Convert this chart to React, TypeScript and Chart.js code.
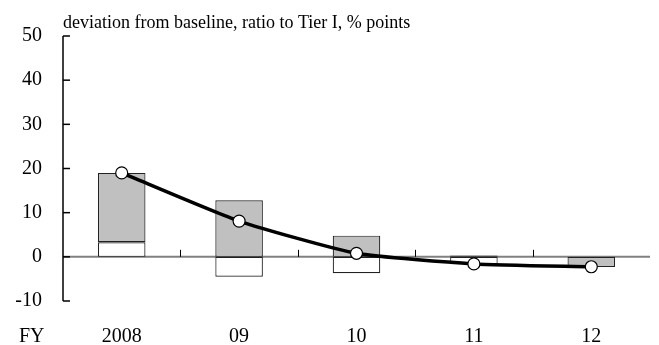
import React, { useEffect, useRef } from "react";
import { Chart, registerables } from "chart.js";

Chart.register(...registerables);

const categories = ["2008", "09", "10", "11", "12"];
const whiteValues = [3.3, -4.5, -3.7, -1.7, 0];
const grayValues = [15.7, 12.8, 4.8, 0.3, -2.3];
const totalValues = [19.0, 8.1, 0.8, -1.6, -2.25];
const yTicks = [-10, 0, 10, 20, 30, 40, 50];
const titleText = "deviation from baseline, ratio to Tier I, % points";
const fyLabel = "FY";

const FONT = "'Liberation Serif', 'Times New Roman', serif";

const decor = {
  id: "decor",
  beforeDatasetsDraw(chart: any) {
    const { ctx, chartArea } = chart;
    const y = chart.scales.y;
    const x = chart.scales.x;
    const y0 = y.getPixelForValue(0);
    ctx.save();
    ctx.strokeStyle = "#808080";
    ctx.lineWidth = 2;
    ctx.beginPath();
    ctx.moveTo(chartArea.left, y0);
    ctx.lineTo(chartArea.right, y0);
    ctx.stroke();
    ctx.strokeStyle = "#000";
    ctx.lineWidth = 1;
    for (let i = 0; i < categories.length - 1; i++) {
      const px = Math.round((x.getPixelForValue(i) + x.getPixelForValue(i + 1)) / 2) + 0.5;
      ctx.beginPath();
      ctx.moveTo(px, y0);
      ctx.lineTo(px, y0 - 7);
      ctx.stroke();
    }
    ctx.restore();
  },
  afterDraw(chart: any) {
    const { ctx, chartArea } = chart;
    const y = chart.scales.y;
    ctx.save();
    ctx.strokeStyle = "#000";
    ctx.lineWidth = 1.5;
    const ax = chartArea.left;
    ctx.beginPath();
    ctx.moveTo(ax, y.getPixelForValue(50));
    ctx.lineTo(ax, y.getPixelForValue(-10));
    ctx.stroke();
    for (const t of yTicks) {
      const py = y.getPixelForValue(t);
      ctx.beginPath();
      ctx.moveTo(ax, py);
      ctx.lineTo(ax + 7, py);
      ctx.stroke();
    }
    ctx.fillStyle = "#000";
    ctx.font = `18px ${FONT}`;
    ctx.textAlign = "left";
    ctx.textBaseline = "alphabetic";
    ctx.fillText(titleText, ax, 28);
    ctx.font = `20px ${FONT}`;
    ctx.fillText(fyLabel, 19, 342);
    ctx.restore();
  },
};

export default function App() {
  const ref = useRef<HTMLCanvasElement | null>(null);
  useEffect(() => {
    if (!ref.current) return;
    const chart = new Chart(ref.current, {
      type: "bar",
      data: {
        labels: categories,
        datasets: [
          {
            type: "line",
            label: "total",
            data: totalValues,
            stack: "line",
            order: 0,
            borderColor: "#000",
            borderWidth: 3.5,
            tension: 0.18,
            pointRadius: 6,
            pointBackgroundColor: "#fff",
            pointBorderColor: "#000",
            pointBorderWidth: 1.2,
          } as any,
          {
            type: "bar",
            label: "white",
            data: whiteValues,
            stack: "bars",
            order: 1,
            backgroundColor: "#fff",
            borderColor: "#222",
            borderWidth: 1.2,
            borderSkipped: false,
            barPercentage: 0.405,
            categoryPercentage: 1,
          },
          {
            type: "bar",
            label: "gray",
            data: grayValues,
            stack: "bars",
            order: 1,
            backgroundColor: "#c0c0c0",
            borderColor: "#222",
            borderWidth: 1.2,
            borderSkipped: false,
            barPercentage: 0.405,
            categoryPercentage: 1,
          },
        ],
      },
      options: {
        responsive: false,
        animation: false,
        devicePixelRatio: 1,
        layout: { padding: { top: 36, right: 9, left: 0, bottom: 0 } },
        plugins: { legend: { display: false }, tooltip: { enabled: false }, title: { display: false } },
        scales: {
          x: {
            stacked: true,
            grid: { display: false, drawTicks: false },
            border: { display: false },
            ticks: { color: "#000", font: { family: FONT, size: 20 }, padding: 24 },
            afterFit: (s: any) => {
              s.height = 44;
            },
          },
          y: {
            stacked: true,
            min: -10,
            max: 50,
            grid: { display: false, drawTicks: false },
            border: { display: false },
            afterBuildTicks: (s: any) => {
              s.ticks = yTicks.map((v) => ({ value: v }));
            },
            ticks: { color: "#000", font: { family: FONT, size: 20 }, padding: 21 },
            afterFit: (s: any) => {
              s.width = 63;
            },
          },
        },
      },
      plugins: [decor],
    });
    return () => chart.destroy();
  }, []);
  return (
    <div style={{ position: "fixed", left: 0, top: 0, width: 659, height: 345, background: "#fff" }}>
      <canvas ref={ref} width={659} height={345} style={{ width: 659, height: 345, display: "block" }} />
    </div>
  );
}
